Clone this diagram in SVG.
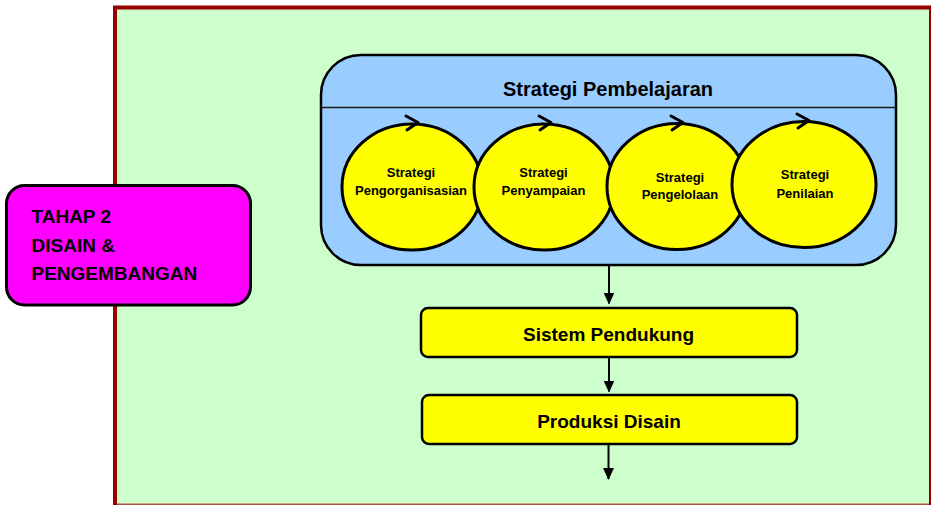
<svg xmlns="http://www.w3.org/2000/svg" width="931" height="505" viewBox="0 0 931 505">
  <defs>
    <style>
      .lbl { font-family: "Liberation Sans", Arial, sans-serif; font-weight: bold; fill: #000; }
      .circ { fill: #ffff00; stroke: #000; stroke-width: 3; }
      .cyc { fill: none; stroke: #000; stroke-width: 3; stroke-linecap: round; stroke-linejoin: round; }
      .box { fill: #ffff00; stroke: #000; stroke-width: 2.5; }
      .conn { stroke: #000; stroke-width: 2; fill: none; }
    </style>
    <marker id="arrow" viewBox="0 0 12 12" refX="11" refY="6" markerWidth="12" markerHeight="12" markerUnits="userSpaceOnUse" orient="auto">
      <path d="M0,0.5 L12,6 L0,11.5 Z" fill="#000"/>
    </marker>
  </defs>

  <!-- stage panel -->
  <rect id="panel" x="115" y="7.5" width="816" height="498.8" fill="#ccffcc" stroke="#990000" stroke-width="4"/>
  <line x1="117" y1="503.5" x2="929" y2="503.5" stroke="#c8a880" stroke-width="1"/>

  <!-- stage label -->
  <g id="stage-label">
    <rect x="6.5" y="185.5" width="244" height="119.5" rx="18" fill="#ff00ff" stroke="#000" stroke-width="3"/>
    <text class="lbl" font-size="19" x="31.5" y="223">TAHAP 2</text>
    <text class="lbl" font-size="19" x="31.5" y="251.5">DISAIN &amp;</text>
    <text class="lbl" font-size="19" x="31.5" y="279.5">PENGEMBANGAN</text>
  </g>

  <!-- learning strategy container -->
  <g id="strategi-pembelajaran">
    <rect x="321" y="55" width="575" height="210" rx="40" fill="#99ccff" stroke="#000" stroke-width="2.5"/>
    <line x1="321" y1="107.5" x2="896" y2="107.5" stroke="#1a1a1a" stroke-width="1.5"/>
    <text class="lbl" font-size="19.5" x="608" y="96" text-anchor="middle" textLength="210" lengthAdjust="spacingAndGlyphs">Strategi Pembelajaran</text>
  </g>

  <g id="strategi-pengorganisasian">
    <ellipse class="circ" cx="412" cy="187" rx="70" ry="63"/>
    <polyline class="cyc" points="406,116 418,122.5 407,130"/>
    <text class="lbl" font-size="13" x="411" y="177" text-anchor="middle">Strategi</text>
    <text class="lbl" font-size="13" x="411" y="195" text-anchor="middle">Pengorganisasian</text>
  </g>

  <g id="strategi-penyampaian">
    <ellipse class="circ" cx="544" cy="187" rx="70" ry="63"/>
    <polyline class="cyc" points="539,116 551,122.5 540,130"/>
    <text class="lbl" font-size="13" x="543.5" y="177" text-anchor="middle">Strategi</text>
    <text class="lbl" font-size="13" x="543.5" y="195" text-anchor="middle">Penyampaian</text>
  </g>

  <g id="strategi-pengelolaan">
    <ellipse class="circ" cx="677" cy="186.5" rx="70" ry="63"/>
    <polyline class="cyc" points="671,116 683,122.5 672,130"/>
    <text class="lbl" font-size="13" x="680" y="181.5" text-anchor="middle">Strategi</text>
    <text class="lbl" font-size="13" x="680" y="199" text-anchor="middle">Pengelolaan</text>
  </g>

  <g id="strategi-penilaian">
    <ellipse class="circ" cx="804" cy="184.5" rx="72" ry="63"/>
    <polyline class="cyc" points="797,114 809,120.5 798,128"/>
    <text class="lbl" font-size="13" x="805" y="179" text-anchor="middle">Strategi</text>
    <text class="lbl" font-size="13" x="805" y="197.5" text-anchor="middle">Penilaian</text>
  </g>

  <g id="sistem-pendukung">
    <rect class="box" x="421" y="308" width="376" height="49" rx="7"/>
    <text class="lbl" font-size="19" x="608.5" y="341" text-anchor="middle">Sistem Pendukung</text>
  </g>

  <g id="produksi-disain">
    <rect class="box" x="422" y="395" width="375" height="49" rx="7"/>
    <text class="lbl" font-size="19" x="609" y="427.5" text-anchor="middle">Produksi Disain</text>
  </g>

  <!-- flow connectors -->
  <g id="connectors">
    <line class="conn" x1="609" y1="266" x2="609" y2="303.5" marker-end="url(#arrow)"/>
    <line class="conn" x1="609" y1="358" x2="609" y2="391.5" marker-end="url(#arrow)"/>
    <line class="conn" x1="608.5" y1="445" x2="608.5" y2="479" marker-end="url(#arrow)"/>
  </g>
</svg>
